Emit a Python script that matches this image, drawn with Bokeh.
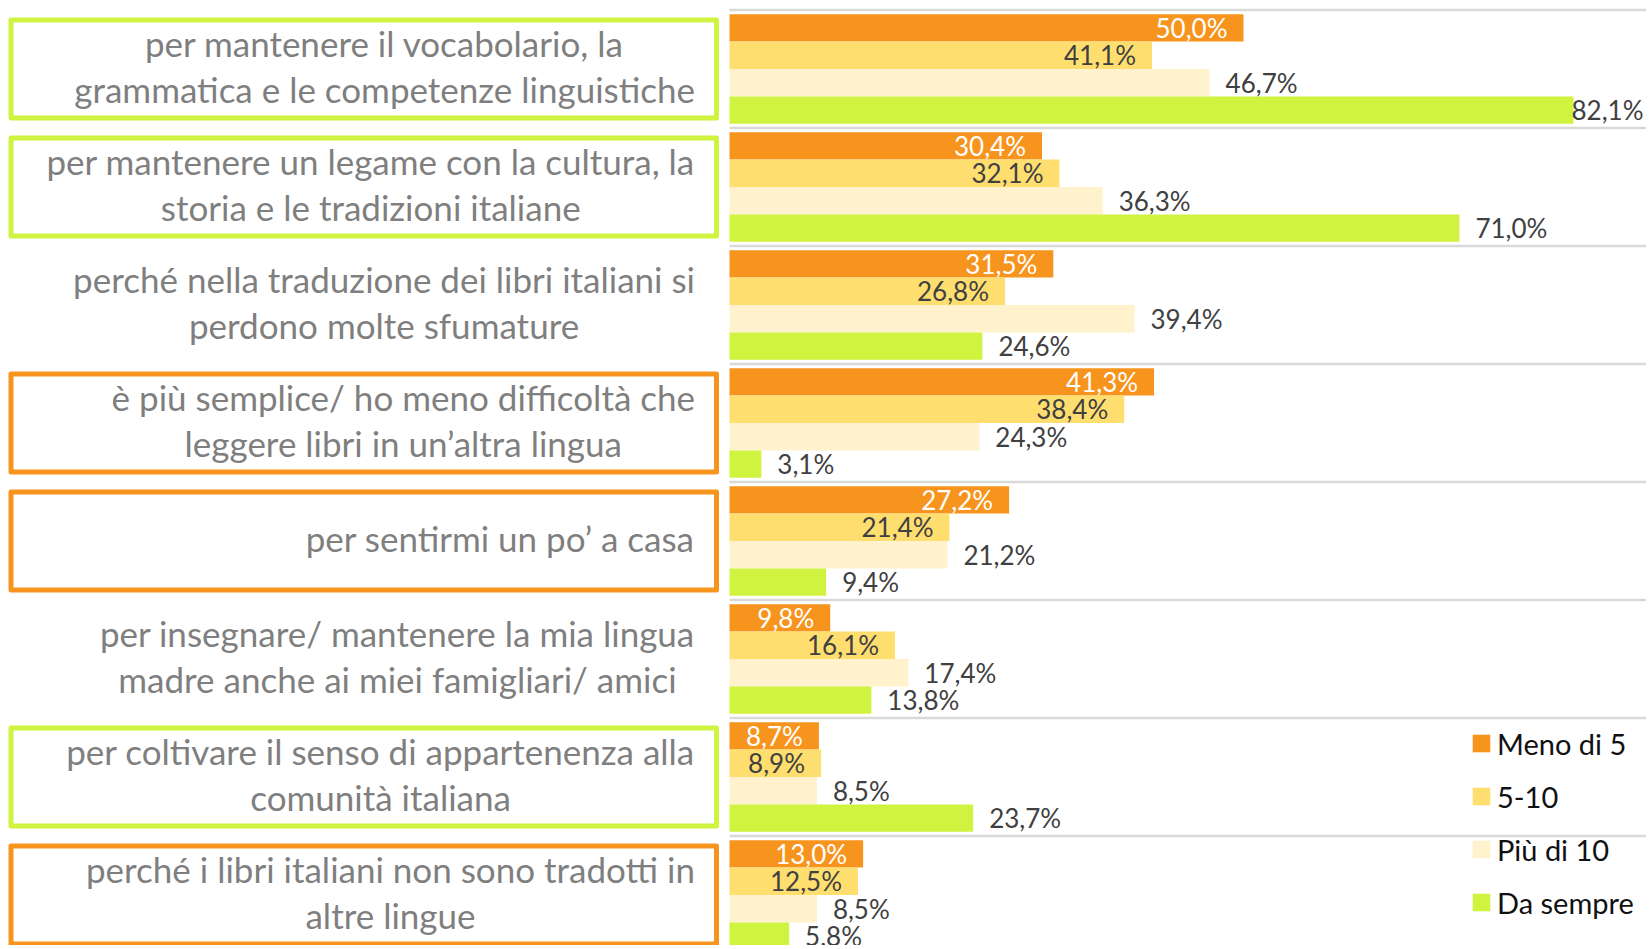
from bokeh.plotting import figure
from bokeh.models import Range1d, Legend, LegendItem
from bokeh.core.properties import value
from bokeh.embed import file_html
from bokeh.resources import INLINE

# ---------------- data ----------------
categories = [
    "per mantenere il vocabolario, la\ngrammatica e le competenze linguistiche",
    "per mantenere un legame con la cultura, la\nstoria e le tradizioni italiane",
    "perché nella traduzione dei libri italiani si\nperdono molte sfumature",
    "è più semplice/ ho meno difficoltà che\nleggere libri in un’altra lingua",
    "per sentirmi un po’ a casa",
    "per insegnare/ mantenere la mia lingua\nmadre anche ai miei famigliari/ amici",
    "per coltivare il senso di appartenenza alla\ncomunità italiana",
    "perché i libri italiani non sono tradotti in\naltre lingue",
]
highlight = ["green", "green", "none", "orange", "orange", "none", "green", "orange"]

series_names = ["Meno di 5", "5-10", "Più di 10", "Da sempre"]
meno_di_5 = [50.0, 30.4, 31.5, 41.3, 27.2, 9.8, 8.7, 13.0]
da_5_a_10 = [41.1, 32.1, 26.8, 38.4, 21.4, 16.1, 8.9, 12.5]
piu_di_10 = [46.7, 36.3, 39.4, 24.3, 21.2, 17.4, 8.5, 8.5]
da_sempre = [82.1, 71.0, 24.6, 3.1, 9.4, 13.8, 23.7, 5.8]

# ---------------- styling ----------------
ORANGE = "#F7941E"
YELLOW = "#FFDE70"
CREAM = "#FFF2CC"
GREEN = "#CFF33E"
series_colors = [ORANGE, YELLOW, CREAM, GREEN]
box_colors = {"green": GREEN, "orange": ORANGE}
FONT = "Lato"

W, H = 1646, 945
PX = 10.28          # pixels per percentage point
X0_PX = 729         # pixel position of the value origin
CAT_PX = 118        # pixel height of one category band
TOP_PX = 9.5
n = len(categories)

x_start = -X0_PX / PX
x_end = x_start + W / PX
y_end = n + TOP_PX / CAT_PX
y_start = y_end - H / CAT_PX

p = figure(width=W, height=H, x_range=Range1d(x_start, x_end),
           y_range=Range1d(y_start, y_end), output_backend="svg",
           toolbar_location=None, min_border=0, x_axis_location=None,
           y_axis_location=None, outline_line_color=None,
           background_fill_color="white", border_fill_color="white")
p.grid.visible = False

# category separators
bounds = list(range(n + 1))
p.segment(x0=[0] * len(bounds), x1=[x_end] * len(bounds), y0=bounds, y1=bounds,
          line_color="#D9D9D9", line_width=2.5)

centers = [n - i - 0.5 for i in range(n)]
bar_h = 27.4 / CAT_PX

all_series = [meno_di_5, da_5_a_10, piu_di_10, da_sempre]
renderers = []
for j, (vals, col) in enumerate(zip(all_series, series_colors)):
    ys = [c + (1.5 - j) * bar_h for c in centers]
    r = p.hbar(y=ys, left=0, right=vals, height=bar_h, fill_color=col,
               line_color=None)
    renderers.append(r)
    labels = [f"{v:.1f}".replace(".", ",") + "%" for v in vals]
    if j < 2:
        p.text(x=vals, y=ys, text=labels, x_offset=-16, text_align="right",
               text_baseline="middle", text_font=value(FONT),
               text_font_size="26px",
               text_color="white" if j == 0 else "#404040")
    else:
        lab_w = 75 / PX
        xs = [min(v + 16 / PX, x_end - lab_w) for v in vals]
        p.text(x=xs, y=ys, text=labels, text_align="left",
               text_baseline="middle", text_font=value(FONT),
               text_font_size="26px", text_color="#404040")

# label boxes
box_left = (10.5 - X0_PX) / PX
box_right = (716 - X0_PX) / PX
bx, by, bc = [], [], []
for c, h in zip(centers, highlight):
    if h in box_colors:
        bx.append((box_left + box_right) / 2)
        by.append(c)
        bc.append(box_colors[h])
p.rect(x=bx, y=by, width=box_right - box_left, height=98 / CAT_PX,
       fill_color=None, line_color=bc, line_width=5, line_join="round")

# category labels
lab_x = (694.5 - X0_PX) / PX
p.text(x=[lab_x] * n, y=centers, text=categories, anchor="center_right",
       text_align="center", text_baseline="middle", text_font=value(FONT),
       text_font_size="35px", text_color="#7F7F7F", text_line_height=1.08,
       y_offset=-3)

# legend
legend = Legend(items=[LegendItem(label=nm, renderers=[r])
                       for nm, r in zip(series_names, renderers)],
                location=(1470, H - 919.5), padding=0, margin=0, spacing=18,
                glyph_width=22, glyph_height=22, label_standoff=5,
                label_text_font=FONT, label_text_font_size="29px",
                label_text_color="#111111", border_line_color=None,
                background_fill_alpha=0)
p.add_layout(legend)

open("out.html", "w").write(file_html(p, INLINE))
